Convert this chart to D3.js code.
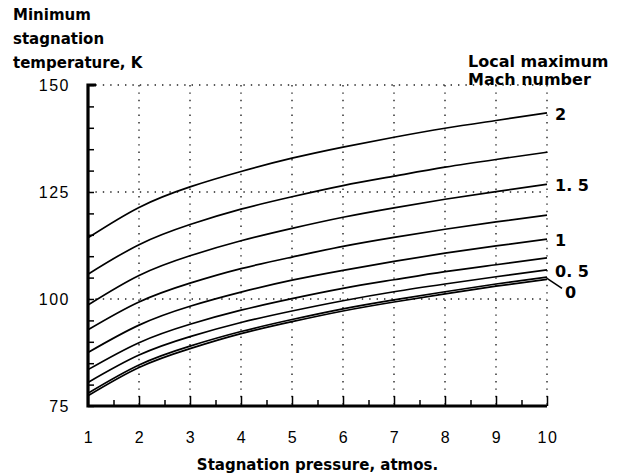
<!DOCTYPE html>
<html>
<head>
<meta charset="utf-8">
<script src="https://cdn.jsdelivr.net/npm/d3@7"></script>
<style>
  body { margin: 0; background: #fff; }
  svg { display: block; }
  .ttl { font-family: "DejaVu Sans", sans-serif; font-weight: bold; font-size: 15px; fill: #000; }
  .tick-lbl { font-family: "Liberation Sans", Arial, sans-serif; font-size: 16px; fill: #000; letter-spacing: 1.5px; }
  .mach-lbl { font-family: "DejaVu Sans", sans-serif; font-weight: bold; font-size: 16px; fill: #000; }
  .grid { stroke: #222; stroke-width: 1.4; stroke-dasharray: 1.4,6; fill: none; }
  .curve { fill: none; stroke: #000; stroke-width: 1.7; }
</style>
</head>
<body>
<svg width="633" height="475"></svg>
<script>
// stagnation pressure (atmos.)
const pressure = [1, 2, 3, 4, 5, 6, 7, 8, 9, 10];

// minimum stagnation temperature (K), one array per local maximum Mach number
const mach200 = [114.3, 121.4, 126.2, 129.8, 132.9, 135.5, 137.8, 139.9, 141.7, 143.5];
const mach175 = [105.8, 112.7, 117.4, 121.0, 123.9, 126.5, 128.7, 130.8, 132.6, 134.3];
const mach150 = [98.6, 105.5, 110.1, 113.6, 116.5, 119.1, 121.3, 123.3, 125.1, 126.8];
const mach125 = [92.8, 99.3, 103.7, 107.1, 109.8, 112.3, 114.4, 116.3, 118.0, 119.6];
const mach100 = [87.5, 93.9, 98.3, 101.6, 104.4, 106.7, 108.8, 110.7, 112.4, 114.0];
const mach075 = [83.5, 89.8, 94.1, 97.4, 100.1, 102.5, 104.5, 106.4, 108.0, 109.6];
const mach050 = [80.5, 86.9, 91.2, 94.5, 97.2, 99.6, 101.7, 103.5, 105.2, 106.8];
const mach025 = [78.0, 84.6, 89.0, 92.4, 95.2, 97.7, 99.8, 101.7, 103.5, 105.1];
const mach000 = [77.4, 84.0, 88.4, 91.9, 94.7, 97.2, 99.3, 101.2, 103.0, 104.6];

const series = [
  { mach: 2, label: "2", values: mach200 },
  { mach: 1.75, label: null, values: mach175 },
  { mach: 1.5, label: "1. 5", values: mach150 },
  { mach: 1.25, label: null, values: mach125 },
  { mach: 1, label: "1", values: mach100 },
  { mach: 0.75, label: null, values: mach075 },
  { mach: 0.5, label: "0. 5", values: mach050 },
  { mach: 0.25, label: null, values: mach025 },
  { mach: 0, label: "0", values: mach000 }
];

const xTicks = [1, 2, 3, 4, 5, 6, 7, 8, 9, 10];
const yTicks = [75, 100, 125, 150];
const yTickLabels = ["75", "100", "125", "150"];

const svg = d3.select("svg");

const x = d3.scaleLinear().domain([1, 10]).range([88, 547]);
const y = d3.scaleLinear().domain([75, 150]).range([406, 85]);

// dotted grid
svg.append("g").selectAll("line").data(xTicks.slice(1)).join("line")
  .attr("class", "grid")
  .attr("x1", d => x(d)).attr("x2", d => x(d))
  .attr("y1", y(150)).attr("y2", y(75));
svg.append("g").selectAll("line").data(yTicks.slice(1)).join("line")
  .attr("class", "grid")
  .attr("x1", x(1)).attr("x2", x(10))
  .attr("y1", d => y(d)).attr("y2", d => y(d));

// left axis: minor ticks every 5, pointing inward
const yAxis = d3.axisRight(y).tickValues(d3.range(75, 151, 5)).tickSize(6).tickFormat("");
svg.append("g").attr("transform", `translate(${x(1)},0)`).call(yAxis)
  .call(g => g.select(".domain").remove())
  .call(g => g.selectAll(".tick line").attr("stroke", "#000").attr("stroke-width", 1.5));

svg.append("g").selectAll("text").data(yTicks).join("text")
  .attr("class", "tick-lbl")
  .attr("x", 70).attr("y", d => y(d)).attr("dy", "0.36em")
  .attr("text-anchor", "end")
  .text((d, i) => yTickLabels[i]);

// bottom axis: ticks every 0.5, pointing inward
const xAxisMajor = d3.axisTop(x).tickValues(xTicks).tickSize(10).tickFormat("");
const xAxisMinor = d3.axisTop(x).tickValues(d3.range(1.5, 10, 1)).tickSize(6).tickFormat("");
[xAxisMajor, xAxisMinor].forEach(ax => {
  svg.append("g").attr("transform", `translate(0,${y(75)})`).call(ax)
    .call(g => g.select(".domain").remove())
    .call(g => g.selectAll(".tick line").attr("stroke", "#000").attr("stroke-width", 1.5));
});

svg.append("g").selectAll("text").data(xTicks).join("text")
  .attr("class", "tick-lbl")
  .attr("x", d => x(d) + 1).attr("y", 443)
  .attr("text-anchor", "middle")
  .text(d => d);

// axis lines
svg.append("path")
  .attr("d", `M${x(1) + 8},${y(150)} H${x(1)} V${y(75)} H${x(10)}`)
  .attr("fill", "none").attr("stroke", "#000").attr("stroke-width", 3.2);

// curves
const line = d3.line()
  .x((d, i) => x(pressure[i]))
  .y(d => y(d))
  .curve(d3.curveNatural);

svg.append("g").selectAll("path").data(series).join("path")
  .attr("class", "curve")
  .attr("d", d => line(d.values));

// Mach labels at curve ends
const labelled = series.filter(s => s.label !== null);
svg.append("g").selectAll("text").data(labelled).join("text")
  .attr("class", "mach-lbl")
  .attr("x", d => d.mach === 0 ? 565 : 555)
  .attr("y", d => d.mach === 0 ? y(d.values[9]) + 13 : y(d.values[9]) + 1)
  .attr("dy", "0.36em")
  .text(d => d.label);

// leader for the "0" label
const zero = series.find(s => s.mach === 0);
svg.append("line")
  .attr("x1", x(10)).attr("y1", y(zero.values[9]) - 1)
  .attr("x2", 562).attr("y2", y(zero.values[9]) + 9)
  .attr("stroke", "#000").attr("stroke-width", 1.5);

// titles
const yTitle = ["Minimum", "stagnation", "temperature, K"];
svg.append("g").selectAll("text").data(yTitle).join("text")
  .attr("class", "ttl")
  .attr("x", 13).attr("y", (d, i) => 20 + i * 24)
  .text(d => d);

const legendTitle = ["Local maximum", "Mach number"];
svg.append("g").selectAll("text").data(legendTitle).join("text")
  .attr("class", "ttl")
  .attr("x", 468).attr("y", (d, i) => 67 + i * 18)
  .style("font-size", "16px")
  .text(d => d);

svg.append("text")
  .attr("class", "ttl")
  .attr("x", (x(1) + x(10)) / 2).attr("y", 470)
  .attr("text-anchor", "middle")
  .text("Stagnation pressure, atmos.");
</script>
</body>
</html>
